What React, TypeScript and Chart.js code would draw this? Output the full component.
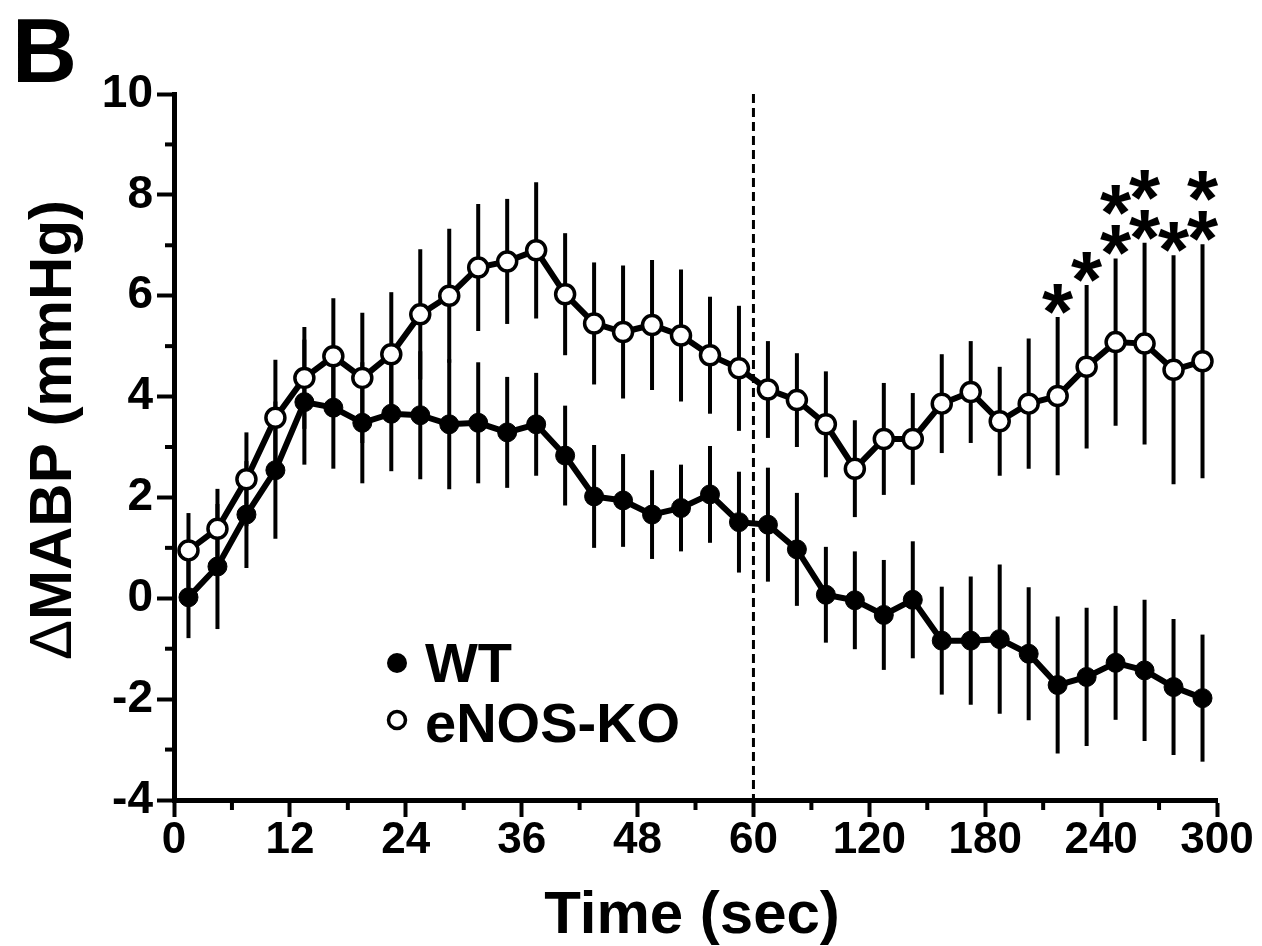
import React, { useEffect, useRef } from 'react';
import { Chart, registerables, LinearScale } from 'chart.js';

// ---- data ----
const timeSec = [
  1.5, 4.5, 7.5, 10.5, 13.5, 16.5, 19.5, 22.5, 25.5, 28.5,
  31.5, 34.5, 37.5, 40.5, 43.5, 46.5, 49.5, 52.5, 55.5, 58.5,
  67.5, 82.5, 97.5, 112.5, 127.5, 142.5, 157.5, 172.5, 187.5, 202.5,
  217.5, 232.5, 247.5, 262.5, 277.5, 292.5,
];
const wtMean = [
  0.02, 0.63, 1.66, 2.54, 3.89, 3.78, 3.48, 3.66, 3.63, 3.45,
  3.48, 3.29, 3.45, 2.83, 2.02, 1.94, 1.66, 1.79, 2.06, 1.51,
  1.46, 0.97, 0.07, -0.04, -0.33, -0.03, -0.84, -0.84, -0.81, -1.10,
  -1.72, -1.56, -1.28, -1.43, -1.76, -1.98,
];
const wtSem = [
  0.81, 1.24, 1.06, 1.36, 1.24, 1.21, 1.2, 1.14, 1.27, 1.29,
  1.2, 1.1, 1.02, 0.99, 1.02, 0.92, 0.88, 0.86, 0.96, 1.0,
  1.13, 1.12, 0.95, 0.97, 1.09, 1.16, 1.07, 1.27, 1.48, 1.32,
  1.36, 1.37, 1.13, 1.40, 1.35, 1.26,
];
const koMean = [
  0.95, 1.38, 2.36, 3.58, 4.37, 4.80, 4.37, 4.84, 5.63, 6.0,
  6.56, 6.68, 6.90, 6.03, 5.45, 5.28, 5.42, 5.21, 4.82, 4.56,
  4.14, 3.93, 3.45, 2.57, 3.16, 3.16, 3.86, 4.09, 3.51, 3.86,
  4.01, 4.59, 5.08, 5.05, 4.53, 4.70,
];
const koSem = [
  0.74, 0.79, 0.93, 1.15, 1.01, 1.15, 1.29, 1.23, 1.29, 1.33,
  1.26, 1.24, 1.35, 1.21, 1.21, 1.32, 1.29, 1.31, 1.16, 1.24,
  0.96, 0.93, 1.05, 0.96, 1.11, 0.91, 0.98, 1.01, 1.08, 1.29,
  1.57, 1.62, 1.66, 2.0, 2.27, 2.32,
];
// number of significance asterisks above each eNOS-KO point
const koStars = [
  0, 0, 0, 0, 0, 0, 0, 0, 0, 0,
  0, 0, 0, 0, 0, 0, 0, 0, 0, 0,
  0, 0, 0, 0, 0, 0, 0, 0, 0, 0,
  1, 1, 2, 2, 1, 2,
];
const xTickSec = [0, 12, 24, 36, 48, 60, 120, 180, 240, 300];
const xMinorSec = [6, 18, 30, 42, 54, 90, 150, 210, 270];
const yTicks = [-4, -2, 0, 2, 4, 6, 8, 10];
const yMinor = [-3, -1, 1, 3, 5, 7, 9];
const seriesNames = ['WT', 'eNOS-KO'];
const yTitleSymbol = '\u0394';
const yTitleText = 'MABP (mmHg)';
const xTitleText = 'Time (sec)';
const panelLetter = 'B';
const BREAK_SEC = 60;
const COMPRESS = 5; // after 60 s, one axis unit = 5 s

const FONT = '"Liberation Sans", Arial, Helvetica, sans-serif';

function toAxis(t: number) {
  return t <= BREAK_SEC ? t : BREAK_SEC + (t - BREAK_SEC) / COMPRESS;
}
function fromAxis(u: number) {
  return u <= BREAK_SEC ? u : BREAK_SEC + (u - BREAK_SEC) * COMPRESS;
}

// Linear scale with a compressed segment after the break
class BrokenTimeScale extends LinearScale {
  static id = 'brokenTime';
  static defaults = LinearScale.defaults;
  getPixelForValue(value: any) {
    if (value === null || value === undefined || isNaN(value)) return NaN;
    const lo = toAxis(this.min);
    const hi = toAxis(this.max);
    return this.getPixelForDecimal((toAxis(+value) - lo) / (hi - lo));
  }
  getValueForPixel(pixel: number) {
    const lo = toAxis(this.min);
    const hi = toAxis(this.max);
    return fromAxis(lo + this.getDecimalForPixel(pixel) * (hi - lo));
  }
}

Chart.register(...registerables, BrokenTimeScale);

const decorPlugin = {
  id: 'decor',
  beforeDatasetsDraw(chart: any) {
    const { ctx, chartArea } = chart;
    const x = chart.scales.x;
    const y = chart.scales.y;
    ctx.save();
    // dashed vertical marker at 60 s
    ctx.strokeStyle = '#000';
    ctx.lineWidth = 3;
    ctx.setLineDash([9, 5]);
    const bx = x.getPixelForValue(BREAK_SEC);
    ctx.beginPath();
    ctx.moveTo(bx, chartArea.top);
    ctx.lineTo(bx, chartArea.bottom);
    ctx.stroke();
    ctx.setLineDash([]);
    // error bars (SEM)
    ctx.lineWidth = 4;
    ctx.lineCap = 'butt';
    const groups = [
      [wtMean, wtSem],
      [koMean, koSem],
    ];
    groups.forEach(([m, s]) => {
      timeSec.forEach((t, i) => {
        const px = x.getPixelForValue(t);
        ctx.beginPath();
        ctx.moveTo(px, y.getPixelForValue(m[i] - s[i]));
        ctx.lineTo(px, y.getPixelForValue(m[i] + s[i]));
        ctx.stroke();
      });
    });
    ctx.restore();
  },
  afterDraw(chart: any) {
    const { ctx, chartArea } = chart;
    const x = chart.scales.x;
    const y = chart.scales.y;
    ctx.save();
    ctx.fillStyle = '#000';
    ctx.strokeStyle = '#000';
    // minor ticks
    ctx.lineWidth = 4;
    yMinor.forEach((v) => {
      const py = y.getPixelForValue(v);
      ctx.beginPath();
      ctx.moveTo(chartArea.left - 9, py);
      ctx.lineTo(chartArea.left, py);
      ctx.stroke();
    });
    xMinorSec.forEach((v) => {
      const px = x.getPixelForValue(v);
      ctx.beginPath();
      ctx.moveTo(px, chartArea.bottom);
      ctx.lineTo(px, chartArea.bottom + 10);
      ctx.stroke();
    });
    // significance asterisks
    ctx.font = `bold 80px ${FONT}`;
    ctx.textAlign = 'center';
    ctx.textBaseline = 'alphabetic';
    koStars.forEach((n, i) => {
      if (!n) return;
      const px = x.getPixelForValue(timeSec[i]);
      const top = y.getPixelForValue(koMean[i] + koSem[i]);
      for (let k = 0; k < n; k++) {
        const cy = top - 23 - k * 40;
        ctx.fillText('*', px, cy + 45);
      }
    });
    // legend
    ctx.lineWidth = 3.5;
    ctx.beginPath();
    ctx.arc(397, 663, 10, 0, Math.PI * 2);
    ctx.fill();
    ctx.beginPath();
    ctx.arc(397, 720, 8.5, 0, Math.PI * 2);
    ctx.fillStyle = '#fff';
    ctx.fill();
    ctx.stroke();
    ctx.fillStyle = '#000';
    ctx.font = `bold 56px ${FONT}`;
    ctx.textAlign = 'left';
    ctx.fillText(seriesNames[0], 425, 682);
    ctx.fillText(seriesNames[1], 425, 742);
    // x axis title
    ctx.font = `bold 60px ${FONT}`;
    ctx.textAlign = 'center';
    ctx.fillText(xTitleText, 692, 933);
    // y axis title: thin delta + bold text
    ctx.save();
    ctx.translate(71, 430);
    ctx.rotate(-Math.PI / 2);
    ctx.font = `bold 60px ${FONT}`;
    const wText = ctx.measureText(yTitleText).width;
    ctx.font = `normal 60px ${FONT}`;
    const wSym = ctx.measureText(yTitleSymbol).width;
    const start = -(wText + wSym) / 2;
    ctx.textAlign = 'left';
    ctx.fillText(yTitleSymbol, start, 0);
    ctx.font = `bold 60px ${FONT}`;
    ctx.fillText(yTitleText, start + wSym, 0);
    ctx.restore();
    // panel letter
    ctx.font = `bold 90px ${FONT}`;
    ctx.textAlign = 'left';
    ctx.fillText(panelLetter, 12, 82);
    ctx.restore();
  },
};

export default function App() {
  const ref = useRef<HTMLCanvasElement | null>(null);
  useEffect(() => {
    if (!ref.current) return;
    const chart = new Chart(ref.current, {
      type: 'line',
      data: {
        datasets: [
          {
            label: seriesNames[0],
            data: timeSec.map((t, i) => ({ x: t, y: wtMean[i] })),
            borderColor: '#000',
            borderWidth: 6,
            pointRadius: 9.5,
            pointBorderWidth: 1,
            pointBackgroundColor: '#000',
            pointBorderColor: '#000',
            tension: 0,
            order: 1,
          },
          {
            label: seriesNames[1],
            data: timeSec.map((t, i) => ({ x: t, y: koMean[i] })),
            borderColor: '#000',
            borderWidth: 6,
            pointRadius: 9.5,
            pointBorderWidth: 3.5,
            pointBackgroundColor: '#fff',
            pointBorderColor: '#000',
            tension: 0,
            order: 2,
          },
        ],
      },
      options: {
        responsive: false,
        animation: false,
        events: [],
        layout: { padding: { top: 94, right: 45, left: 0, bottom: 0 } },
        plugins: { legend: { display: false }, tooltip: { enabled: false } },
        scales: {
          x: {
            type: 'brokenTime' as any,
            min: 0,
            max: 300,
            afterBuildTicks: (s: any) => {
              s.ticks = xTickSec.map((v) => ({ value: v }));
            },
            afterFit: (s: any) => {
              s.height = 146;
            },
            grid: {
              drawOnChartArea: false,
              drawTicks: true,
              tickLength: 17,
              tickWidth: 4,
              tickColor: '#000',
            },
            border: { display: true, width: 5, color: '#000' },
            ticks: {
              autoSkip: false,
              maxRotation: 0,
              color: '#000',
              padding: -3,
              font: { family: FONT, size: 44, weight: 'bold' },
              callback: (v: any) => String(v),
            },
          },
          y: {
            type: 'linear',
            min: -4,
            max: 10,
            afterBuildTicks: (s: any) => {
              s.ticks = yTicks.map((v) => ({ value: v }));
            },
            afterFit: (s: any) => {
              s.width = 174;
            },
            grid: {
              drawOnChartArea: false,
              drawTicks: true,
              tickLength: 17,
              tickWidth: 4,
              tickColor: '#000',
            },
            border: { display: true, width: 5, color: '#000' },
            ticks: {
              color: '#000',
              padding: 4,
              font: { family: FONT, size: 46, weight: 'bold' },
              callback: (v: any) => String(v),
            },
          },
        },
      },
      plugins: [decorPlugin],
    });
    return () => chart.destroy();
  }, []);
  return (
    <div style={{ position: 'absolute', left: 0, top: 0, width: 1262, height: 946, background: '#fff' }}>
      <canvas ref={ref} width={1262} height={946} style={{ display: 'block' }} />
    </div>
  );
}
